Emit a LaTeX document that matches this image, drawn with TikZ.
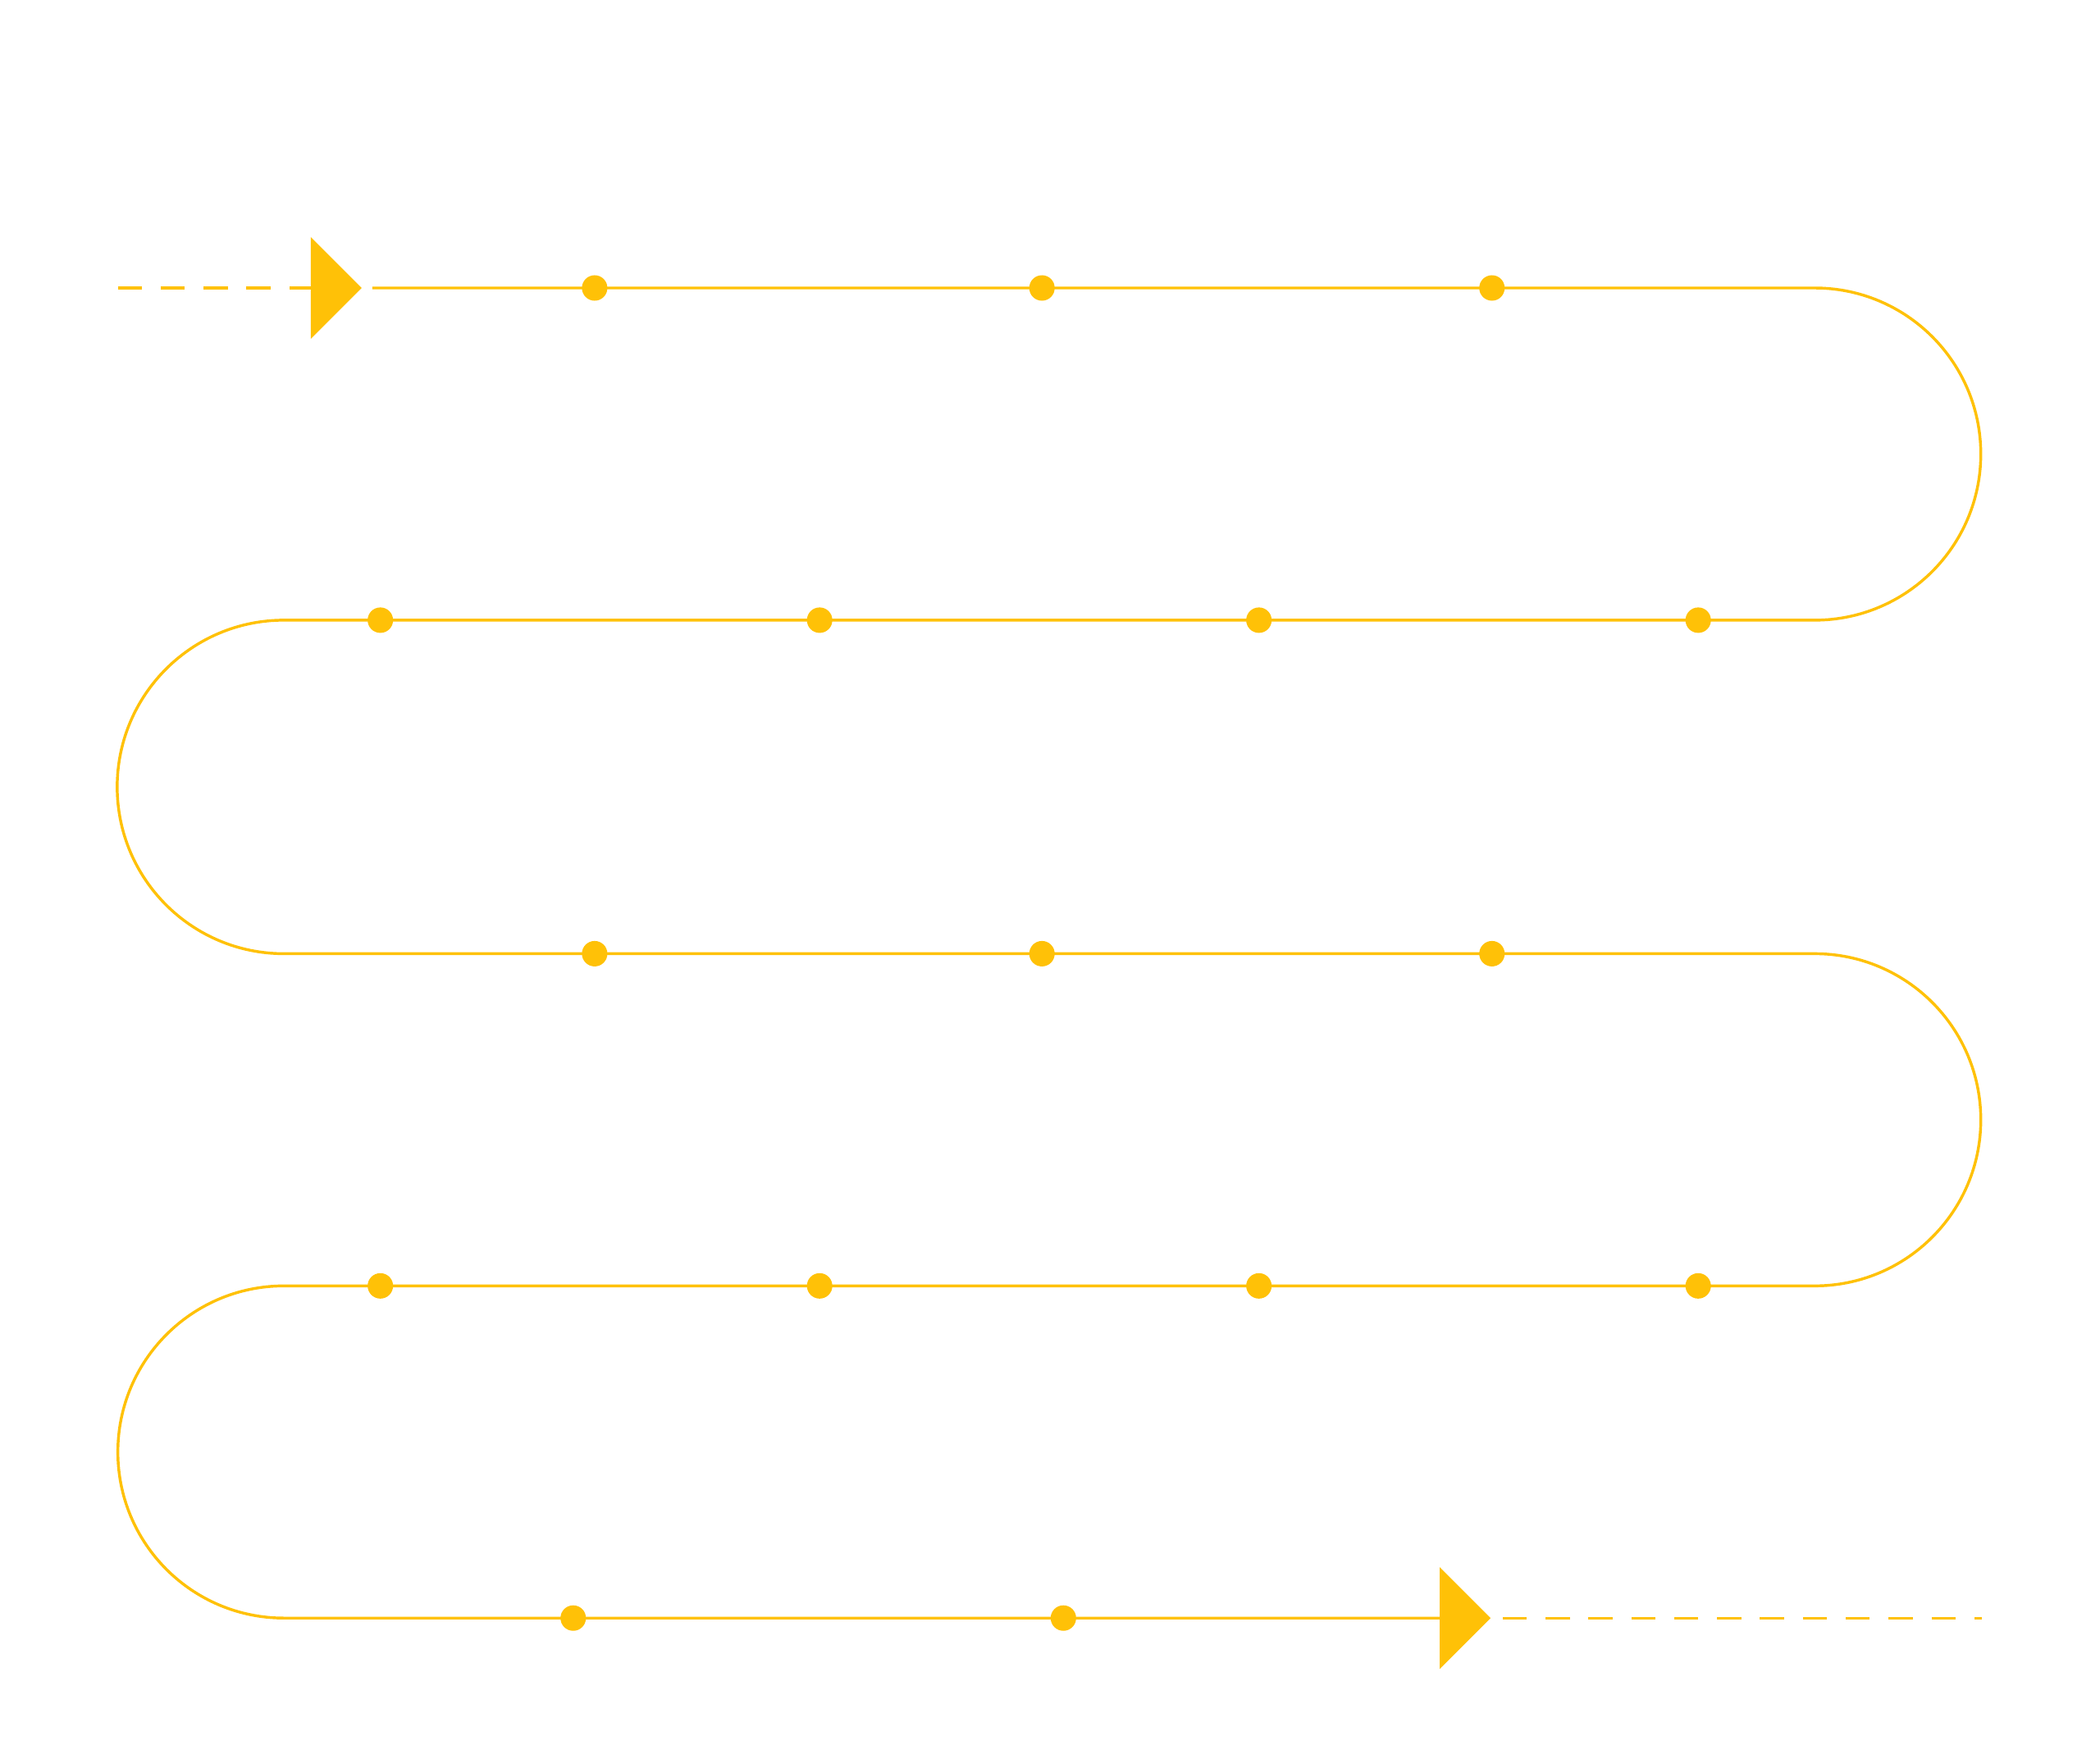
\documentclass[tikz,border=0pt]{standalone}
\usepackage{tikz}
\usetikzlibrary{positioning}
\definecolor{roadY}{HTML}{FFC107}
\tikzstyle{road} = [draw=roadY, line width=0.6pt]
\tikzstyle{roadD} = [road, dash pattern=on 1.8mm off 1.4mm]
\tikzstyle{stop} = [circle, fill=roadY, inner sep=0pt, minimum size=0.19cm]
\tikzstyle{tip} = [fill=roadY]
\begin{document}
\begin{tikzpicture}[x=0.01cm, y=-0.01cm]
    \useasboundingbox (0,0) rectangle (1568,1313);
    % start and end markers
    \coordinate (s0) at (88,215);
    \coordinate (s1) at (278,215);
    \coordinate (e0) at (1122,1208);
    \coordinate (e1) at (1480,1208);
    \draw [roadD] (s0) -- (232,215);
    \fill [tip] (232,177) -- (270,215) -- (232,253) -- cycle;
    \fill [tip] (1075,1170) -- (1113,1208) -- (1075,1246) -- cycle;
    \draw [roadD] (e0) -- (e1);
    % winding road
    \draw [road] (s1) -- (1355,215) arc[start angle=-90, end angle=90, radius=124]
        -- (212,463) arc[start angle=-90, end angle=-270, radius=124.5]
        -- (1355,712) arc[start angle=-90, end angle=90, radius=124]
        -- (212,960) arc[start angle=-90, end angle=-270, radius=124]
        -- (1075,1208);
    % stops
    \foreach \x [count=\i] in {444,778,1114} \node (a\i) [stop] at (\x,215) {};
    \foreach \x [count=\i] in {284,612,940,1268} \node (b\i) [stop] at (\x,463) {};
    \foreach \x [count=\i] in {444,778,1114} \node (c\i) [stop] at (\x,712) {};
    \foreach \x [count=\i] in {284,612,940,1268} \node (d\i) [stop] at (\x,960) {};
    \foreach \x [count=\i] in {428,794} \node (f\i) [stop] at (\x,1208) {};
\end{tikzpicture}
\end{document}
